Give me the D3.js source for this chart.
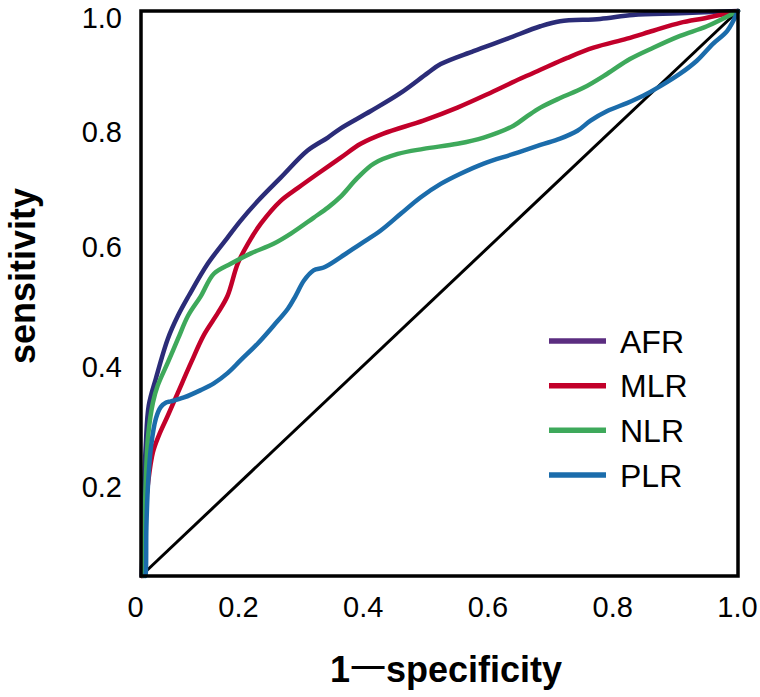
<!DOCTYPE html>
<html>
<head>
<meta charset="utf-8">
<script src="https://cdn.jsdelivr.net/npm/d3@7/dist/d3.min.js"></script>
<style>
  html, body { margin: 0; padding: 0; background: #ffffff; }
  svg { display: block; }
</style>
</head>
<body>
<svg id="chart" width="760" height="697"></svg>
<script>
// ---- data ----
const seriesNames = ["AFR", "MLR", "NLR", "PLR"];
const xTickLabels = ["0", "0.2", "0.4", "0.6", "0.8", "1.0"];
const xTickValues = [0, 0.2, 0.4, 0.6, 0.8, 1.0];
const yTickLabels = ["0.2", "0.4", "0.6", "0.8", "1.0"];
const yTickValues = [0.2, 0.4, 0.6, 0.8, 1.0];

const afrFpr  = [0.001,0.002,0.003,0.008,0.013,0.025,0.045,0.062,0.080,0.112,0.145,0.167,0.196,0.234,0.279,0.313,0.334,0.385,0.435,0.480,0.502,0.557,0.614,0.669,0.702,0.769,0.824,0.903,1.0];
const afrTpr  = [0.000,0.028,0.085,0.231,0.302,0.350,0.420,0.461,0.496,0.553,0.599,0.629,0.664,0.705,0.753,0.776,0.792,0.823,0.855,0.890,0.906,0.929,0.951,0.973,0.982,0.986,0.993,0.996,1.0];

const mlrFpr  = [0.002,0.003,0.005,0.012,0.020,0.030,0.045,0.062,0.084,0.105,0.129,0.145,0.162,0.179,0.201,0.234,0.263,0.296,0.334,0.368,0.406,0.473,0.530,0.585,0.635,0.669,0.714,0.758,0.814,0.858,0.903,0.948,1.0];
const mlrTpr  = [0.000,0.005,0.085,0.166,0.219,0.249,0.284,0.325,0.378,0.426,0.466,0.496,0.553,0.588,0.624,0.664,0.687,0.712,0.740,0.765,0.783,0.806,0.829,0.855,0.880,0.896,0.917,0.935,0.951,0.965,0.979,0.988,1.0];

const nlrFpr  = [0.004,0.005,0.006,0.008,0.012,0.020,0.028,0.045,0.062,0.079,0.100,0.122,0.151,0.184,0.222,0.251,0.289,0.313,0.334,0.363,0.390,0.430,0.473,0.530,0.574,0.624,0.647,0.669,0.702,0.741,0.781,0.819,0.858,0.903,0.948,1.0];
const nlrTpr  = [0.000,0.007,0.085,0.166,0.249,0.307,0.337,0.378,0.420,0.461,0.495,0.535,0.553,0.571,0.588,0.606,0.634,0.652,0.671,0.705,0.730,0.747,0.756,0.765,0.776,0.797,0.814,0.829,0.846,0.864,0.889,0.915,0.935,0.956,0.973,1.0];

const plrFpr  = [0.007,0.008,0.009,0.012,0.017,0.025,0.033,0.042,0.050,0.072,0.100,0.122,0.145,0.167,0.196,0.222,0.246,0.259,0.273,0.289,0.306,0.334,0.368,0.401,0.435,0.468,0.502,0.535,0.574,0.624,0.669,0.702,0.731,0.753,0.781,0.814,0.841,0.870,0.903,0.931,0.958,0.982,1.0];
const plrTpr  = [0.000,0.005,0.085,0.166,0.231,0.279,0.299,0.307,0.309,0.316,0.329,0.341,0.359,0.382,0.412,0.443,0.473,0.496,0.523,0.541,0.546,0.564,0.588,0.611,0.641,0.670,0.694,0.712,0.730,0.747,0.763,0.774,0.788,0.806,0.823,0.837,0.850,0.867,0.889,0.912,0.942,0.965,1.0];

const refFpr = [0, 1];
const refTpr = [0, 1];

const seriesColors = ["#2b2c78", "#c2002a", "#3ea95b", "#1b6cab"];
const legendColors = ["#5b2d80", "#c2002a", "#3ea95b", "#1b6cab"];

// ---- layout ----
const svg = d3.select("#chart");
const plot = { left: 141, right: 738, top: 11, bottom: 576 };

const x = d3.scaleLinear().domain([0, 1]).range([plot.left, plot.right]);
const y = d3.scaleLinear().domain([0, 1]).range([plot.bottom, plot.top]);

// label placement scales (tick labels in the original sit slightly off-grid)
const xLabelScale = d3.scaleLinear().domain([0, 0.2, 1]).range([135, 238, 737]);
const yLabelScale = d3.scaleLinear().domain([0.2, 0.6, 1]).range([487, 247, 18]);

const font = "'Liberation Sans', Arial, Helvetica, sans-serif";
const cjkFont = "'Noto Sans CJK SC', 'Noto Sans CJK JP', sans-serif";

// diagonal reference
const line = d3.line().x(d => x(d[0])).y(d => y(d[1]));
svg.append("path")
  .datum(d3.zip(refFpr, refTpr))
  .attr("d", line)
  .attr("fill", "none")
  .attr("stroke", "#000")
  .attr("stroke-width", 3);

// ROC curves
const curveLine = d3.line()
  .x(d => x(d[0])).y(d => y(d[1]))
  .curve(d3.curveCatmullRom.alpha(0.5));

const series = [
  d3.zip(afrFpr, afrTpr),
  d3.zip(mlrFpr, mlrTpr),
  d3.zip(nlrFpr, nlrTpr),
  d3.zip(plrFpr, plrTpr)
];

svg.append("g").selectAll("path")
  .data(series)
  .join("path")
  .attr("d", d => curveLine(d))
  .attr("fill", "none")
  .attr("stroke", (d, i) => seriesColors[i])
  .attr("stroke-width", 4.5)
  .attr("stroke-linejoin", "round")
  .attr("stroke-linecap", "round");

// frame
svg.append("rect")
  .attr("x", x(0))
  .attr("y", y(1))
  .attr("width", x(1) - x(0))
  .attr("height", y(0) - y(1))
  .attr("fill", "none")
  .attr("stroke", "#000")
  .attr("stroke-width", 3.5);

// x tick labels
const xAxis = d3.axisBottom(xLabelScale)
  .tickValues(xTickValues)
  .tickFormat((d, i) => xTickLabels[i])
  .tickSize(0).tickPadding(0);
const gx = svg.append("g").attr("transform", "translate(0,596)").call(xAxis);
gx.select(".domain").remove();
gx.selectAll("text")
  .attr("font-family", font)
  .attr("font-size", 29)
  .attr("fill", "#000")
  .attr("dy", "0.71em");

// y tick labels
const yAxis = d3.axisLeft(yLabelScale)
  .tickValues(yTickValues)
  .tickFormat((d, i) => yTickLabels[i])
  .tickSize(0).tickPadding(0);
const gy = svg.append("g").attr("transform", "translate(122,0)").call(yAxis);
gy.select(".domain").remove();
gy.selectAll("text")
  .attr("font-family", font)
  .attr("font-size", 29)
  .attr("fill", "#000");

// axis titles
svg.append("text")
  .attr("transform", "translate(35,276) rotate(-90)")
  .attr("text-anchor", "middle")
  .attr("font-family", font)
  .attr("font-weight", "bold")
  .attr("font-size", 36)
  .attr("fill", "#000")
  .text("sensitivity");

const xt = svg.append("text")
  .attr("x", 446)
  .attr("y", 682)
  .attr("text-anchor", "middle")
  .attr("font-family", font)
  .attr("font-weight", "bold")
  .attr("font-size", 36)
  .attr("fill", "#000");
xt.append("tspan").text("1");
xt.append("tspan").attr("font-family", cjkFont).attr("font-weight", "normal").text("一");
xt.append("tspan").text("specificity");

// legend
const legendY = d3.scalePoint().domain(seriesNames).range([341, 475]);
const lg = svg.append("g");
const items = lg.selectAll("g").data(seriesNames).join("g")
  .attr("transform", d => `translate(0,${legendY(d)})`);
items.append("line")
  .attr("x1", 549).attr("x2", 606)
  .attr("stroke", (d, i) => legendColors[i])
  .attr("stroke-width", 5.5);
items.append("text")
  .attr("x", 620)
  .attr("y", 0)
  .attr("dy", "0.36em")
  .attr("font-family", font)
  .attr("font-size", 32)
  .attr("fill", "#000")
  .text(d => d);
</script>
</body>
</html>
